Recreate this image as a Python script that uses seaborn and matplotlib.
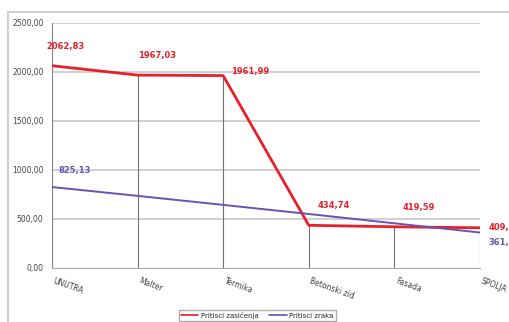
import pandas as pd
import matplotlib.pyplot as plt
import seaborn as sns
import matplotlib.patches as mpatches

categories = ['UNUTRA', 'Malter', 'Termika', 'Betonski zid', 'Fasada', 'SPOLJA']
pritisci_zasicenja = [2062.83, 1967.03, 1961.99, 434.74, 419.59, 409.04]
pritisci_zraka = [825.13, 735.0, 643.0, 550.0, 455.0, 361.06]
y_ticks = [0, 500, 1000, 1500, 2000, 2500]
y_tick_labels = ['0,00', '500,00', '1000,00', '1500,00', '2000,00', '2500,00']

red = '#e8202a'
purple = '#6a52b3'

df = pd.DataFrame({
    'pos': list(range(len(categories))) * 2,
    'value': pritisci_zasicenja + pritisci_zraka,
    'series': ['Pritisci zasićenja'] * len(categories) + ['Pritisci zraka'] * len(categories),
})

sns.set_style('white')
fig = plt.figure(figsize=(5.09, 3.22), dpi=100)
ax = fig.add_axes([0.102, 0.168, 0.841, 0.761])

# light frame around the chart area
fig.patches.append(mpatches.Rectangle((8 / 509, -0.05), 1.1, 1 - 12 / 322 + 0.05,
                                      transform=fig.transFigure, fill=False,
                                      edgecolor='#d0d0d0', linewidth=1.5))

for t in y_ticks[1:]:
    ax.axhline(t, color='#c8c8c8', linewidth=1.2, zorder=0)

# drop lines from the upper series to the axis
ax.vlines(range(len(categories)), 0, pritisci_zasicenja, color='#707070', linewidth=0.8, zorder=1)

sns.lineplot(data=df, x='pos', y='value', hue='series', palette=[red, purple],
             ax=ax, linewidth=2, zorder=3, legend=False)
# thinner air-pressure line
ax.get_lines()[-1].set_linewidth(1.4)

ax.set_xlim(0, len(categories) - 1)
ax.set_ylim(0, 2500)
ax.set_yticks(y_ticks)
ax.set_yticklabels(y_tick_labels, fontsize=5.5, color='#444444')
ax.set_xticks(range(len(categories)))
ax.set_xticklabels(categories, fontsize=5.5, color='#444444', rotation=-20, ha='left')
ax.tick_params(axis='both', length=3, color='#888888', pad=3)
ax.tick_params(axis='x', length=0, pad=6)
ax.set_xlabel('')
ax.set_ylabel('')
for s in ['top', 'right']:
    ax.spines[s].set_visible(False)
ax.spines['left'].set_color('#888888')
ax.spines['bottom'].set_color('#aaaaaa')
ax.spines['left'].set_linewidth(0.8)

# data labels
red_offsets = [(-4, 14), (0, 14), (6, 3), (6, 14), (6, 14), (6, 0)]
for i, (v, off) in enumerate(zip(pritisci_zasicenja, red_offsets)):
    ax.annotate(f'{v:.2f}'.replace('.', ','), (i, v), xytext=off, textcoords='offset points',
                fontsize=6, color=red, fontweight='bold', ha='left', va='center',
                annotation_clip=False)
ax.annotate('825,13', (0, pritisci_zraka[0]), xytext=(5, 12), textcoords='offset points',
            fontsize=6, color=purple, fontweight='bold', va='center')
ax.annotate('361,06', (len(categories) - 1, pritisci_zraka[-1]), xytext=(6, -7),
            textcoords='offset points', fontsize=6, color=purple, fontweight='bold',
            va='center', annotation_clip=False)

handles = [plt.Line2D([], [], color=red, linewidth=1.2), plt.Line2D([], [], color=purple, linewidth=1.2)]
ax.legend(handles, ['Pritisci zasićenja', 'Pritisci zraka'], loc='lower center',
          bbox_to_anchor=(0.48, -0.23), ncol=2, fontsize=5, frameon=True,
          fancybox=False, edgecolor='#999999', handlelength=2.5, borderpad=0.3,
          columnspacing=1.5, handletextpad=0.4)

fig.savefig('out.png', dpi=100)
